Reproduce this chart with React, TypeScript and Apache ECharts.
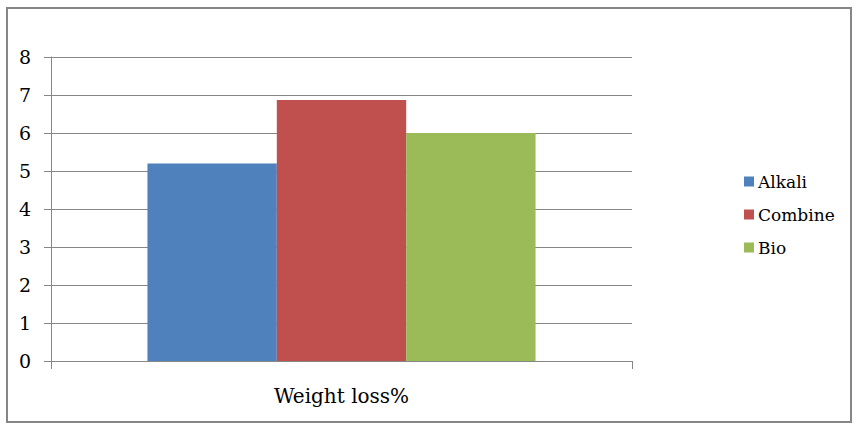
import React, { useEffect, useRef } from "react";
import * as echarts from "echarts";

const categories = ["Weight loss%"];
const seriesNames = ["Alkali", "Combine", "Bio"];
const alkali = [5.2];
const combine = [6.87];
const bio = [6.0];
const colors = ["#4F81BD", "#C0504D", "#9BBB59"];

export default function App() {
  const ref = useRef<HTMLDivElement>(null);
  useEffect(() => {
    document.body.style.margin = "0";
    const chart = echarts.init(ref.current!, undefined, { renderer: "svg" });
    const font = "DejaVu Serif";
    const gray = "#868686";
    const values = [alkali, combine, bio];
    chart.setOption({
      animation: false,
      backgroundColor: "#ffffff",
      textStyle: { fontFamily: font, color: "#000" },
      grid: { left: 51, right: 224, top: 57, bottom: 69, containLabel: false },
      legend: {
        orient: "vertical",
        left: 744,
        top: 173,
        padding: 0,
        itemWidth: 10,
        itemHeight: 10,
        itemGap: 16,
        icon: "rect",
        textStyle: { fontFamily: font, fontSize: 17, color: "#000", padding: [0, 0, 0, -1] },
        data: seriesNames,
      },
      xAxis: {
        type: "category",
        data: categories,
        axisLine: { show: true, lineStyle: { color: gray, width: 1 } },
        axisTick: { show: true, length: 8, lineStyle: { color: gray } },
        axisLabel: { fontFamily: font, fontSize: 20, color: "#000", margin: 25 },
        splitLine: { show: false },
      },
      yAxis: {
        type: "value",
        min: 0,
        max: 8,
        interval: 1,
        axisLine: { show: true, lineStyle: { color: gray, width: 1 } },
        axisTick: { show: true, length: 7, lineStyle: { color: gray } },
        axisLabel: { fontFamily: font, fontSize: 19, color: "#000", margin: 20 },
        splitLine: { show: true, lineStyle: { color: gray, width: 1 } },
      },
      series: seriesNames.map((name, i) => ({
        name,
        type: "bar",
        data: values[i],
        barGap: "0%",
        barCategoryGap: "33.2%",
        itemStyle: { color: colors[i] },
      })),
      graphic: [
        {
          type: "rect",
          shape: { x: 7, y: 8, width: 844, height: 414 },
          style: { fill: "none", stroke: gray, lineWidth: 2 },
          silent: true,
        },
      ],
    });
    return () => chart.dispose();
  }, []);
  return <div ref={ref} style={{ width: 856, height: 430 }} />;
}
